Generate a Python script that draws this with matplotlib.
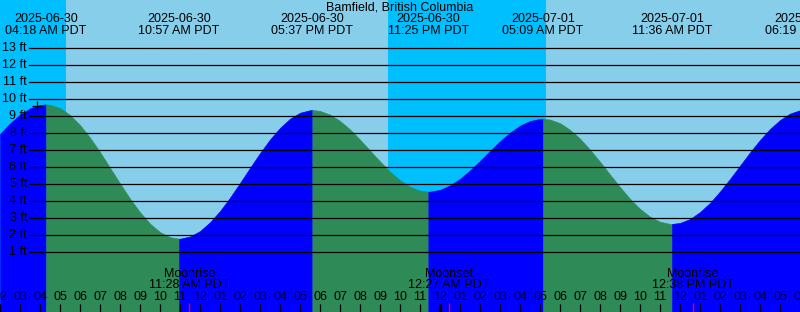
import numpy as np
import matplotlib.pyplot as plt

plt.rcParams['font.family'] = ['Liberation Sans', 'DejaVu Sans']
plt.rcParams['font.size'] = 9

# tide extremes, hours counted from 2025-06-30 00:00 PDT
ext_hours = [4.30, 10.95, 17.617, 23.417, 29.15, 35.60, 42.317]
ext_heights = [9.70, 1.80, 9.37, 4.57, 8.86, 2.67, 9.40]
ext_dates = ["2025-06-30", "2025-06-30", "2025-06-30", "2025-06-30",
             "2025-07-01", "2025-07-01", "2025-07-01"]
ext_times = ["04:18 AM PDT", "10:57 AM PDT", "05:37 PM PDT", "11:25 PM PDT",
             "05:09 AM PDT", "11:36 AM PDT", "06:19 PM PDT"]

# half-hourly tide heights (ft), 02:00 6/30 .. 18:00 7/1
sample_hours = np.arange(2, 42.01, 0.5)
heights = [
    7.96, 8.59, 9.10, 9.47, 9.67, 9.68, 9.49, 9.08,   # 02:00 - 05:30
    8.49, 7.75, 6.90, 5.98, 5.05, 4.16, 3.36, 2.69,   # 06:00 - 09:30
    2.19, 1.89, 1.80, 1.93, 2.25, 2.77, 3.43, 4.22,   # 10:00 - 13:30
    5.08, 5.97, 6.84, 7.64, 8.32, 8.86, 9.21, 9.36,   # 14:00 - 17:30
    9.32, 9.10, 8.73, 8.23, 7.63, 6.99, 6.35, 5.75,   # 18:00 - 21:30
    5.24, 4.86, 4.63, 4.57, 4.68, 4.94, 5.33, 5.82,   # 22:00 - 01:30
    6.38, 6.97, 7.54, 8.04, 8.45, 8.73, 8.85, 8.81,   # 02:00 - 05:30
    8.60, 8.21, 7.69, 7.04, 6.33, 5.58, 4.84, 4.15,   # 06:00 - 09:30
    3.56, 3.10, 2.80, 2.67, 2.73, 2.96, 3.37, 3.91,   # 10:00 - 13:30
    4.58, 5.32, 6.10, 6.88, 7.61, 8.26, 8.78, 9.16,   # 14:00 - 17:30
    9.36,                                             # 18:00
]

night_spans = [(2.0, 5.30), (21.40, 29.30)]

moon_hours = [11.467, 24.45, 36.633]
moon_names = ["Moonrise", "Moonset", "Moonrise"]
moon_times = ["11:28 AM PDT", "12:27 AM PDT", "12:38 PM PDT"]

now_hour, now_height = 3.87, 9.6

ft_levels = list(range(1, 14))
x_min, x_max = 2, 42

sky = '#87CEEB'
night = '#00BFFF'
falling = '#2E8B57'
rising = '#0000FF'

W, H = 800, 312
fig = plt.figure(figsize=(W / 100, H / 100), dpi=100)
ax = fig.add_axes([0, 0, 1, 1])
ax.set_xlim(x_min, x_max)
ax.set_ylim(-(H - 269.3) / 17, 269.3 / 17)
ax.axis('off')
ax.add_patch(plt.Rectangle((0, 0), 1, 1, transform=ax.transAxes, color=sky, zorder=0))

for a, b in night_spans:
    ax.axvspan(a, b, color=night, lw=0, zorder=1)

# merge the extremes into the sampled curve
t = list(sample_hours)
hv = list(heights)
for eh, ev in zip(ext_hours, ext_heights):
    if x_min < eh < x_max:
        t.append(eh)
        hv.append(ev)
order = np.argsort(t)
t = np.array(t)[order]
hv = np.array(hv)[order]

bounds = [x_min] + [e for e in ext_hours if x_min < e < x_max] + [x_max]
for a, b in zip(bounds[:-1], bounds[1:]):
    m = (t >= a - 1e-9) & (t <= b + 1e-9)
    col = rising if hv[m][-1] > hv[m][0] else falling
    ax.fill_between(t[m], -5, hv[m], color=col, lw=0.4, edgecolor=col, zorder=2)

xt = ax.get_xaxis_transform()
yt = ax.get_yaxis_transform()

for ft in ft_levels:
    ax.axhline(ft, xmin=29 / W, color='black', lw=0.9, zorder=3)
    ax.text(27 / W, ft, f"{ft} ft", transform=yt, ha='right', va='center', zorder=4)

ax.plot(now_hour, now_height, marker='+', color='black', ms=7.5, mew=0.9, zorder=5)

# top labels: tide times
for eh, d, tm in zip(ext_hours, ext_dates, ext_times):
    ax.text(eh, 1 - 19.5 / H, d, transform=xt, ha='center', va='center', zorder=5)
    ax.text(eh, 1 - 31.5 / H, tm, transform=xt, ha='center', va='center', zorder=5)

fig.text(0.5, 1 - 8 / H, "Bamfield, British Columbia", ha='center', va='center')

# hour ticks and labels
for h in range(x_min, x_max + 1):
    lbl = h % 12
    lbl = 12 if lbl == 0 else lbl
    ax.text(h, 1 - 297.5 / H, f"{lbl:02d}", transform=xt, ha='center', va='center', zorder=5)
    if h % 24 == 0:
        ax.plot([h, h], [0, 8 / H], transform=xt, color='black', lw=2.4, zorder=5,
                solid_capstyle='butt')
    else:
        ax.plot([h, h], [0, 8 / H], transform=xt, color='black', lw=0.9, zorder=5,
                solid_capstyle='butt')

# moon events
for mh, name, tm in zip(moon_hours, moon_names, moon_times):
    ax.plot([mh, mh], [0, 9 / H], transform=xt, color='red', lw=1.0, zorder=5,
            solid_capstyle='butt')
    ax.text(mh, 1 - 273.7 / H, name, transform=xt, ha='center', va='center', zorder=5)
    ax.text(mh, 1 - 285 / H, tm, transform=xt, ha='center', va='center', zorder=5)

fig.savefig('out.png', dpi=100)
